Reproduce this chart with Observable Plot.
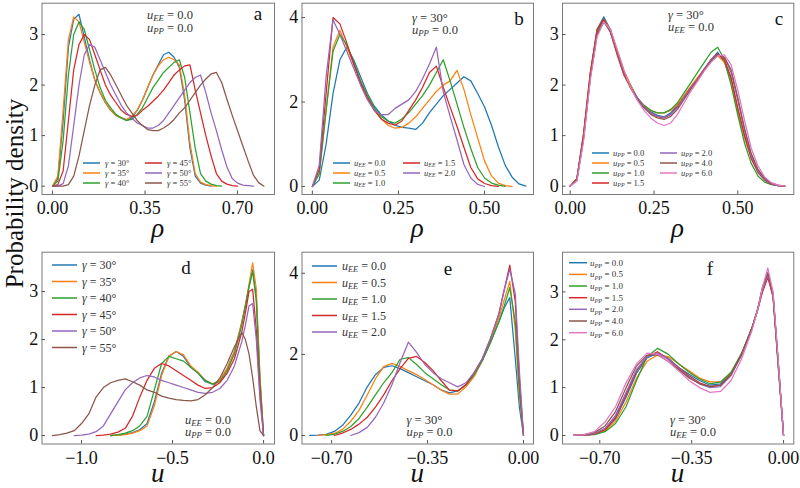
<!DOCTYPE html>
<html><head><meta charset="utf-8">
<script src="https://cdn.jsdelivr.net/npm/d3@7"></script>
<script src="https://cdn.jsdelivr.net/npm/@observablehq/plot@0.6"></script>
<style>
body{margin:0;background:#fff}
#chart{position:relative;width:800px;height:488px;background:#fff;font-family:"Liberation Serif",serif}
#chart svg{position:absolute;left:0;top:0}
</style></head><body><div id="chart"></div>
<script>
// ---------- parameters / labels ----------
const gammas = [30, 35, 40, 45, 50, 55];
const uEEs = [0.0, 0.5, 1.0, 1.5, 2.0];
const uPPs = [0.0, 0.5, 1.0, 1.5, 2.0, 4.0, 6.0];
const rhoTicksA = [0, 0.35, 0.70];
const rhoTicksBC = [0, 0.25, 0.50];
const uTicksD = [-1.0, -0.5, 0.0];
const uTicksEF = [-0.70, -0.35, 0.0];
const yTicks3 = [0, 1, 2, 3];
const yTicks4 = [0, 2, 4];

// ---------- panel a : rho, varying gamma ----------
const gridA = [0,0.02,0.04,0.06,0.08,0.1,0.12,0.14,0.16,0.18,0.2,0.22,0.24,0.26,0.28,0.3,0.32,0.34,0.36,0.38,0.4,0.42,0.44,0.46,0.48,0.5,0.52,0.54,0.56,0.58,0.6,0.62,0.64,0.66,0.68,0.7,0.72,0.74,0.76,0.78,0.8];
const a30 = [0,0.15,1.3,2.75,3.3,3.4,2.95,2.5,2.1,1.85,1.65,1.5,1.4,1.35,1.3,1.35,1.5,1.7,1.95,2.2,2.4,2.6,2.65,2.55,2.35,1.7,0.75,0.2,0.06,0.02,0];
const a35 = [0,0.2,1.5,2.9,3.35,3.25,2.85,2.45,2.1,1.85,1.65,1.5,1.4,1.35,1.32,1.38,1.5,1.7,1.95,2.2,2.38,2.5,2.55,2.5,2.4,1.8,0.85,0.25,0.08,0.03,0.01,0];
const a40 = [0,0.1,0.9,2.2,3.0,3.25,3.1,2.7,2.3,1.95,1.7,1.55,1.42,1.35,1.3,1.32,1.42,1.55,1.75,1.95,2.1,2.25,2.35,2.45,2.5,2.15,1.45,0.75,0.25,0.1,0.04,0.01,0];
const a45 = [0,0.03,0.3,1.3,2.3,2.8,3.0,2.9,2.6,2.3,2.0,1.8,1.65,1.5,1.42,1.38,1.4,1.5,1.58,1.68,1.78,1.9,2.05,2.2,2.3,2.38,2.4,1.9,1.45,1.0,0.6,0.25,0.1,0.04,0.01,0];
const a50 = [0,0,0.05,0.4,1.2,2.0,2.6,2.8,2.75,2.5,2.25,2.0,1.8,1.6,1.45,1.35,1.25,1.2,1.15,1.15,1.2,1.3,1.45,1.6,1.75,1.9,2.05,2.15,2.2,1.85,1.45,1.1,0.72,0.38,0.15,0.06,0.02,0.01,0];
const a55 = [0,0,0,0.03,0.2,0.6,1.1,1.6,2.0,2.3,2.35,2.2,2.0,1.8,1.6,1.45,1.3,1.2,1.12,1.1,1.1,1.15,1.22,1.32,1.45,1.55,1.7,1.85,2.0,2.12,2.22,2.25,2.05,1.72,1.4,1.1,0.8,0.5,0.22,0.07,0];

// ---------- panel b : rho, varying uEE ----------
const gridB = [0,0.02,0.04,0.06,0.08,0.1,0.12,0.14,0.16,0.18,0.2,0.22,0.24,0.26,0.28,0.3,0.32,0.34,0.36,0.38,0.4,0.42,0.44,0.46,0.48,0.5,0.52,0.54,0.56,0.58,0.6,0.62];
const b00 = [0,0.15,1.0,2.2,3.0,3.3,3.0,2.6,2.2,1.9,1.7,1.55,1.45,1.4,1.38,1.35,1.5,1.75,1.95,2.15,2.3,2.45,2.6,2.5,2.2,1.88,1.45,0.94,0.5,0.22,0.06,0.01];
const b05 = [0,0.3,1.8,3.3,3.7,3.3,2.9,2.5,2.15,1.85,1.6,1.45,1.38,1.4,1.5,1.65,1.85,2.05,2.25,2.4,2.5,2.75,2.3,1.7,1.15,0.6,0.25,0.08,0.02,0];
const b10 = [0,0.3,1.8,3.2,3.6,3.35,2.95,2.5,2.15,1.85,1.65,1.55,1.5,1.6,1.75,1.95,2.15,2.4,2.7,3.0,2.5,1.95,1.4,0.9,0.45,0.2,0.08,0.03,0];
const b15 = [0,0.4,2.2,4.0,3.85,3.4,2.9,2.45,2.1,1.8,1.6,1.5,1.45,1.55,1.8,2.05,2.35,2.7,2.85,2.35,1.88,1.42,0.93,0.45,0.18,0.07,0.02,0];
const b20 = [0,0.5,2.6,3.95,3.6,3.2,2.8,2.4,2.05,1.8,1.7,1.7,1.85,1.95,2.05,2.25,2.55,2.9,3.3,2.24,1.66,1.1,0.52,0.2,0.05,0];

// ---------- panel c : rho, varying uPP ----------
const gridC = [0,0.02,0.04,0.06,0.08,0.1,0.12,0.14,0.16,0.18,0.2,0.22,0.24,0.26,0.28,0.3,0.32,0.34,0.36,0.38,0.4,0.42,0.44,0.46,0.48,0.5,0.52,0.54,0.56,0.58,0.6,0.62,0.64];
const c00 = [0,0.15,1.0,2.2,3.1,3.35,3.1,2.65,2.25,2.0,1.75,1.57,1.47,1.4,1.37,1.45,1.62,1.78,1.95,2.1,2.3,2.5,2.65,2.45,2.1,1.5,1.0,0.6,0.32,0.15,0.05,0.01,0];
const c05 = [0,0.15,1.05,2.25,3.05,3.3,3.1,2.7,2.3,2.0,1.75,1.6,1.5,1.45,1.45,1.5,1.62,1.8,1.98,2.15,2.32,2.48,2.58,2.45,2.05,1.45,0.95,0.55,0.3,0.13,0.05,0.01,0];
const c10 = [0,0.15,1.0,2.2,3.05,3.3,3.05,2.65,2.25,1.95,1.75,1.6,1.5,1.45,1.45,1.52,1.65,1.85,2.05,2.25,2.45,2.65,2.75,2.5,2.0,1.4,0.85,0.45,0.2,0.08,0.03,0.01,0];
const c15 = [0,0.15,1.05,2.25,3.1,3.3,3.05,2.6,2.2,1.95,1.72,1.57,1.45,1.38,1.35,1.42,1.58,1.75,1.95,2.12,2.32,2.5,2.62,2.5,2.15,1.55,1.0,0.55,0.27,0.12,0.04,0.01,0];
const c20 = [0,0.12,0.95,2.15,3.0,3.25,3.1,2.65,2.25,1.95,1.75,1.58,1.45,1.38,1.36,1.42,1.55,1.75,1.95,2.12,2.32,2.5,2.6,2.55,2.25,1.7,1.1,0.6,0.3,0.13,0.05,0.01,0];
const c40 = [0,0.12,0.95,2.15,3.0,3.25,3.05,2.65,2.25,1.95,1.72,1.55,1.42,1.35,1.32,1.38,1.52,1.72,1.92,2.1,2.3,2.48,2.6,2.55,2.3,1.75,1.15,0.65,0.33,0.15,0.06,0.02,0];
const c60 = [0,0.1,0.9,2.1,2.95,3.25,3.1,2.7,2.3,1.95,1.7,1.5,1.35,1.25,1.2,1.25,1.42,1.65,1.88,2.08,2.28,2.45,2.58,2.6,2.4,1.9,1.3,0.75,0.4,0.18,0.07,0.02,0];

// ---------- panel d : u, varying gamma ----------
const gridD = [-1.16,-1.12,-1.08,-1.04,-1.0,-0.96,-0.92,-0.88,-0.84,-0.8,-0.76,-0.72,-0.68,-0.64,-0.6,-0.56,-0.52,-0.48,-0.44,-0.4,-0.36,-0.32,-0.28,-0.24,-0.2,-0.16,-0.12,-0.1,-0.08,-0.06,-0.04,-0.02,0];
const d30 = [null,null,null,null,null,null,null,null,0,0.01,0.03,0.06,0.12,0.25,0.7,1.3,1.65,1.75,1.65,1.42,1.3,1.12,1.07,1.15,1.4,1.75,2.35,2.7,3.1,3.45,2.9,1.2,0];
const d35 = [null,null,null,null,null,null,null,null,0,0.01,0.02,0.05,0.1,0.2,0.62,1.25,1.65,1.75,1.68,1.45,1.32,1.15,1.07,1.15,1.4,1.75,2.35,2.72,3.15,3.6,3.05,1.25,0];
const d40 = [null,null,null,null,null,null,null,null,0,0.02,0.05,0.1,0.2,0.4,0.95,1.5,1.65,1.6,1.55,1.42,1.3,1.15,1.07,1.12,1.35,1.7,2.3,2.7,3.1,3.42,2.8,1.1,0];
const d45 = [null,null,null,null,null,null,0,0.01,0.03,0.07,0.15,0.4,0.8,1.15,1.4,1.5,1.45,1.35,1.25,1.15,1.05,0.98,1.0,1.1,1.3,1.6,2.15,2.55,3.0,3.05,2.2,0.9,0];
const d50 = [null,null,null,0,0.01,0.03,0.08,0.2,0.45,0.7,0.95,1.1,1.2,1.25,1.22,1.15,1.1,1.05,1.0,0.95,0.9,0.88,0.9,0.98,1.15,1.45,1.95,2.3,2.7,2.75,2.0,0.75,0];
const d55 = [0,0.02,0.05,0.1,0.25,0.45,0.8,1.0,1.1,1.15,1.18,1.12,1.05,0.95,0.9,0.82,0.78,0.75,0.73,0.72,0.75,0.85,1.0,1.2,1.5,1.85,2.15,2.0,1.7,1.2,0.6,0.1,0];

// ---------- panel e : u, varying uEE ----------
const gridE = [-0.78,-0.75,-0.72,-0.69,-0.66,-0.63,-0.6,-0.57,-0.54,-0.51,-0.48,-0.45,-0.42,-0.39,-0.36,-0.33,-0.3,-0.27,-0.24,-0.21,-0.18,-0.15,-0.12,-0.09,-0.07,-0.05,-0.03,-0.015,0];
const e00 = [0,0.01,0.03,0.1,0.25,0.5,0.8,1.2,1.5,1.68,1.72,1.65,1.55,1.45,1.35,1.25,1.12,1.05,1.1,1.25,1.5,1.85,2.3,2.8,3.15,3.4,1.9,0.7,0];
const e05 = [null,0,0.02,0.05,0.15,0.35,0.62,1.0,1.4,1.7,1.78,1.7,1.6,1.5,1.38,1.25,1.12,1.02,1.02,1.2,1.45,1.85,2.35,2.9,3.35,3.8,2.6,1.0,0];
const e10 = [null,null,0,0.03,0.1,0.22,0.42,0.7,1.0,1.3,1.55,1.88,1.92,1.75,1.55,1.4,1.25,1.12,1.1,1.25,1.5,1.85,2.3,2.8,3.2,3.65,2.8,1.1,0];
const e15 = [null,null,null,0,0.06,0.15,0.28,0.45,0.7,1.0,1.35,1.65,1.9,1.95,1.8,1.6,1.35,1.12,1.1,1.25,1.55,1.9,2.4,3.0,3.6,4.2,3.3,1.4,0];
const e20 = [null,null,null,null,null,0,0.07,0.2,0.45,0.8,1.25,1.8,2.3,2.05,1.75,1.55,1.4,1.3,1.2,1.3,1.55,1.9,2.4,3.0,3.6,4.1,3.5,1.6,0];

// ---------- panel f : u, varying uPP ----------
const gridF = [-0.8,-0.76,-0.72,-0.68,-0.64,-0.6,-0.56,-0.52,-0.48,-0.44,-0.4,-0.36,-0.32,-0.28,-0.24,-0.2,-0.16,-0.12,-0.1,-0.08,-0.06,-0.04,-0.02,0];
const f00 = [0,0.01,0.03,0.12,0.35,0.8,1.3,1.62,1.72,1.62,1.42,1.28,1.15,1.05,1.08,1.3,1.7,2.25,2.6,3.05,3.38,2.95,1.5,0];
const f05 = [0,0.01,0.03,0.1,0.3,0.7,1.2,1.55,1.68,1.65,1.5,1.35,1.2,1.12,1.12,1.3,1.7,2.25,2.6,3.05,3.35,2.9,1.45,0];
const f10 = [0,0.01,0.02,0.08,0.25,0.6,1.15,1.65,1.82,1.7,1.5,1.32,1.18,1.08,1.12,1.32,1.72,2.25,2.6,3.1,3.4,2.9,1.4,0];
const f15 = [0,0.01,0.03,0.12,0.38,0.85,1.35,1.65,1.75,1.6,1.42,1.25,1.1,1.02,1.05,1.28,1.68,2.25,2.6,3.0,3.3,2.9,1.5,0];
const f20 = [0,0.01,0.04,0.15,0.42,0.9,1.38,1.65,1.72,1.6,1.4,1.22,1.08,1.0,1.02,1.25,1.68,2.25,2.6,3.05,3.35,2.95,1.5,0];
const f40 = [0,0.02,0.06,0.2,0.5,1.0,1.45,1.68,1.68,1.55,1.38,1.2,1.08,1.02,1.05,1.28,1.7,2.25,2.62,3.1,3.4,2.95,1.5,0];
const f60 = [0,0.02,0.08,0.28,0.6,1.1,1.5,1.72,1.7,1.55,1.35,1.15,1.0,0.9,0.92,1.15,1.6,2.2,2.6,3.1,3.5,3.0,1.55,0];

// ---------- styling ----------
const C = ["#1f77b4","#ff7f0e","#2ca02c","#d62728","#9467bd","#8c564b","#e377c2"];
const FONT = '"Liberation Serif", "DejaVu Serif", serif';

function gLab(g){ return [{t:"γ",i:1},{t:" = "+g+"°"}]; }
function uLab(sub, v){ return [{t:"u",i:1},{t:sub,i:1,s:1},{t:" = "+v.toFixed(1)}]; }

const panels = [
  {frame:[41.5,274,2.7,194], xd:[-0.04,0.84], yd:[-0.165,3.62], xt:rhoTicksA, xf:".2f", yt:yTicks3,
   grid:gridA, series:[a30,a35,a40,a45,a50,a55], labels:gammas.map(gLab)},
  {frame:[301.5,533,2.7,194], xd:[-0.03,0.642], yd:[-0.19,4.34], xt:rhoTicksBC, xf:".2f", yt:yTicks4,
   grid:gridB, series:[b00,b05,b10,b15,b20], labels:uEEs.map(v=>uLab("EE",v))},
  {frame:[562,793.3,2.7,194], xd:[-0.023,0.667], yd:[-0.165,3.62], xt:rhoTicksBC, xf:".2f", yt:yTicks3,
   grid:gridC, series:[c00,c05,c10,c15,c20,c40,c60], labels:uPPs.map(v=>uLab("PP",v))},
  {frame:[41.5,274,251.7,443.5], xd:[-1.217,0.06], yd:[-0.177,3.82], xt:uTicksD, xf:".1f", yt:yTicks3,
   grid:gridD, series:[d30,d35,d40,d45,d50,d55], labels:gammas.map(gLab)},
  {frame:[301.5,533,251.7,443.5], xd:[-0.808,0.0365], yd:[-0.21,4.52], xt:uTicksEF, xf:".2f", yt:yTicks4,
   grid:gridE, series:[e00,e05,e10,e15,e20], labels:uEEs.map(v=>uLab("EE",v))},
  {frame:[562,793.3,251.7,443.5], xd:[-0.842,0.039], yd:[-0.178,3.83], xt:uTicksEF, xf:".2f", yt:yTicks3,
   grid:gridF, series:[f00,f05,f10,f15,f20,f40,f60], labels:uPPs.map(v=>uLab("PP",v))}
];

const root = document.getElementById("chart");

panels.forEach((p, pi) => {
  const rows = [];
  p.series.forEach((vals, si) => {
    vals.forEach((v, i) => rows.push({x: p.grid[i], y: v, k: si}));
  });
  const svg = Plot.plot({
    width: 800, height: 488,
    marginLeft: p.frame[0], marginRight: 800 - p.frame[1],
    marginTop: p.frame[2], marginBottom: 488 - p.frame[3],
    style: {background: "transparent", fontFamily: FONT, fontSize: "18px", color: "#111", overflow: "visible"},
    x: {domain: p.xd, label: null},
    y: {domain: p.yd, label: null},
    color: {domain: p.series.map((s, i) => i), range: C.slice(0, p.series.length)},
    marks: [
      Plot.line(rows, {x: "x", y: "y", z: "k", stroke: "k", strokeWidth: 1.25, clip: true}),
      Plot.frame({stroke: "#7a7a7a", strokeWidth: 1}),
      Plot.axisX({ticks: p.xt, tickFormat: d3.format(p.xf), tickSize: -3.5, tickPadding: 10.5, stroke: "#555", label: null}),
      Plot.axisY({ticks: p.yt, tickFormat: d3.format("d"), tickSize: -3.5, tickPadding: 7.3, stroke: "#555", label: null})
    ]
  });
  root.appendChild(svg);
});

// ---------- overlay: labels, legends, annotations ----------
const ov = d3.select(root).append("svg").attr("width", 800).attr("height", 488)
  .style("font-family", FONT);

function rich(x, y, parts, size, fill, anchor) {
  const t = ov.append("text").attr("x", x).attr("y", y).attr("font-size", size)
    .attr("fill", fill || "#222").attr("dominant-baseline", "central")
    .attr("text-anchor", anchor || "start");
  let shifted = false;
  parts.forEach(p => {
    const ts = t.append("tspan").text(p.t);
    if (p.i) ts.attr("font-style", "italic");
    if (p.s) { ts.attr("font-size", size * 0.7).attr("dy", size * 0.25); shifted = true; }
    else if (shifted) { ts.attr("dy", -size * 0.25); shifted = false; }
  });
  return t;
}

function legend(labels, cols, rows, lineLen, gap, size, colors) {
  // cols: x of each column; rows: y of each row; filled column-major
  let idx = 0;
  cols.forEach(cx => {
    rows.forEach(ry => {
      if (idx >= labels.length) return;
      ov.append("line").attr("x1", cx).attr("x2", cx + lineLen).attr("y1", ry).attr("y2", ry)
        .attr("stroke", colors[idx]).attr("stroke-width", 1.5);
      rich(cx + lineLen + gap, ry, labels[idx], size, "#333");
      idx++;
    });
  });
}

// legends
legend(panels[0].labels, [83, 145], [163, 173, 183], 17, 5, 8.5, C);
legend(panels[1].labels, [333, 403], [163, 173, 183], 17, 4, 8.5, C);
legend(panels[2].labels, [592, 660], [153, 163, 173, 183], 17, 4, 8.5, C);
legend(panels[3].labels, [52], [265, 281.5, 298, 314.5, 331, 347.5], 25, 5, 12, C);
legend(panels[4].labels, [312], [266, 282.5, 299, 315.5, 332], 25, 5, 12, C);
legend(panels[5].labels, [569], [262.7, 274.4, 286, 297.7, 309.3, 321, 332.7], 18, 3, 9, C);

// annotations
const ann = [
  [147, 15, uLab("EE", 0.0)], [147, 27.5, uLab("PP", 0.0)],
  [412, 18, gLab(30)], [412, 29.5, uLab("PP", 0.0)],
  [668, 15, gLab(30)], [668, 27, uLab("EE", 0.0)],
  [185, 420, uLab("EE", 0.0)], [185, 432, uLab("PP", 0.0)],
  [406.5, 420, gLab(30)], [406.5, 432, uLab("PP", 0.0)],
  [670, 420, gLab(30)], [670, 432, uLab("EE", 0.0)]
];
ann.forEach(a => rich(a[0], a[1], a[2], 12.5, "#333"));

// panel letters
[["a",258,13],["b",519,18],["c",779,18],["d",186,267],["e",448,268],["f",710,268]]
  .forEach(l => ov.append("text").attr("x", l[1]).attr("y", l[2]).attr("text-anchor", "middle")
    .attr("dominant-baseline", "central").attr("font-size", 19).attr("fill", "#111").text(l[0]));

// axis labels
[[157.7, 237, "ρ"], [417.2, 237, "ρ"], [677.6, 237, "ρ"],
 [157.7, 482, "u"], [417.2, 482, "u"], [677.6, 482, "u"]]
  .forEach(l => ov.append("text").attr("x", l[0]).attr("y", l[1]).attr("text-anchor", "middle")
    .attr("font-size", 27).attr("font-style", "italic").attr("fill", "#111").text(l[2]));

ov.append("text").attr("transform", "translate(22.5,193.5) rotate(-90)").attr("text-anchor", "middle")
  .attr("font-size", 25).attr("fill", "#111").text("Probability density");
</script>
</body></html>
